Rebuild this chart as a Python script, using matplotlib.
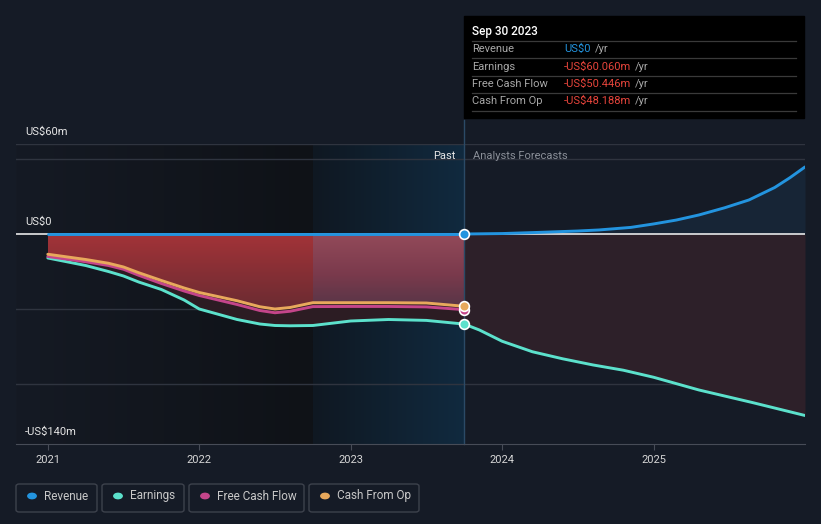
import numpy as np
import matplotlib.pyplot as plt
from matplotlib.colors import LinearSegmentedColormap
from matplotlib.patches import Rectangle, FancyBboxPatch, Circle

plt.rcParams['font.family'] = ['Roboto', 'DejaVu Sans']

W, H = 821, 524

# ------------------------------------------------------------
# Datos (US$m, años decimales)
# ------------------------------------------------------------
t_past = [2021.0, 2021.25, 2021.4, 2021.5, 2021.6, 2021.75, 2021.9, 2022.0, 2022.25,
          2022.4, 2022.5, 2022.6, 2022.75, 2023.0, 2023.25, 2023.5, 2023.75]
revenue_past = [0] * len(t_past)
earnings_past = [-16, -21, -25, -28, -32, -37, -44, -50, -57,
                 -60, -61, -61.2, -61, -58, -57, -57.6, -60.06]
fcf_past = [-15, -18.5, -21, -23.5, -27.5, -33, -38, -41, -47,
            -51, -52.5, -51.5, -48.4, -48.3, -48.3, -48.6, -50.446]
cfo_past = [-13.5, -17, -19.5, -22, -25.8, -31, -36, -39, -44.5,
            -48.5, -50, -49, -45.8, -45.8, -45.8, -46, -48.188]

t_earn_fc = [2023.75, 2023.85, 2024.0, 2024.2, 2024.4, 2024.6, 2024.8, 2025.0,
             2025.3, 2025.65, 2026.0]
earnings_fc = [-60.06, -64, -71.5, -78.5, -83.2, -87.3, -90.8, -95.5, -104, -112.3, -121]

t_rev_fc = [2023.75, 2024.0, 2024.25, 2024.5, 2024.64, 2024.85, 2025.0, 2025.15,
            2025.3, 2025.47, 2025.63, 2025.8, 2025.9, 2026.0]
revenue_fc = [0, 0.3, 1.1, 2.0, 2.7, 4.4, 6.7, 9.3, 12.7, 17.5, 22.7, 31.0, 37.5, 44.7]

years = [2021, 2022, 2023, 2024, 2025]
y_labels = {60: 'US$60m', 0: 'US$0', -140: '-US$140m'}

tooltip_date = 'Sep 30 2023'
tooltip_rows = [('Revenue', 'US$0', '#2394df'),
                ('Earnings', '-US$60.060m', '#e8453c'),
                ('Free Cash Flow', '-US$50.446m', '#e8453c'),
                ('Cash From Op', '-US$48.188m', '#e8453c')]

C_REV = '#2394df'
C_EARN = '#5ce1cc'
C_FCF = '#c4458a'
C_CFO = '#e8a95c'
BG = '#151b26'


def fx(x):
    return x / W


def fy(y):
    return 1 - y / H


# ------------------------------------------------------------
# Figura y ejes
# ------------------------------------------------------------
fig = plt.figure(figsize=(W / 100, H / 100), dpi=100, facecolor=BG)
ax = fig.add_axes([fx(16), fy(444), (805 - 16) / W, 300 / H])
ax.set_facecolor(BG)
x0, x1 = 2020.79, 2026.0
ax.set_xlim(x0, x1)
ax.set_ylim(-140, 60)
t_split = 2022.75
t_now = 2023.75

# fondo oscuro del pasado y zona resaltada (último año)
dark = LinearSegmentedColormap.from_list('dark', ['#151a24', '#0f1217'])
ax.imshow(np.linspace(0, 1, 200).reshape(1, -1), cmap=dark, aspect='auto',
          extent=[x0, t_split, -140, 60], zorder=0)
hl = LinearSegmentedColormap.from_list('hl', ['#0f1822', '#112a3f'])
ax.imshow(np.linspace(0, 1, 200).reshape(1, -1), cmap=hl, aspect='auto',
          extent=[t_split, t_now, -140, 60], zorder=0)

# líneas de rejilla
for g in [60, 50, -50, -100]:
    ax.axhline(g, color='#2f343f', lw=1, zorder=1)

# relleno rojo entre 0 y Cash From Op (pasado)
poly = ax.fill_between(t_past, 0, cfo_past, color='none', lw=0)
clip = poly.get_paths()[0]
red = LinearSegmentedColormap.from_list('red', ['#5a2930', '#a33338'])
gy = np.linspace(0, 1, 100).reshape(-1, 1)
im1 = ax.imshow(gy, cmap=red, aspect='auto', origin='lower',
                extent=[2021, t_split, -65, 0], zorder=2)
im1.set_clip_path(clip, ax.transData)
mauve = LinearSegmentedColormap.from_list('mauve', ['#4e3446', '#7a3a4c', '#934a5a'])
im2 = ax.imshow(gy, cmap=mauve, aspect='auto', origin='lower',
                extent=[t_split, t_now, -55, 0], zorder=2)
im2.set_clip_path(clip, ax.transData)

# relleno oscuro entre Cash From Op y Earnings
ax.fill_between(t_past, cfo_past, earnings_past, color='#2c1c23', lw=0, zorder=2)

# previsiones: rellenos
ax.fill_between(t_earn_fc, 0, earnings_fc, color='#2d2029', lw=0, zorder=2)
ax.fill_between(t_rev_fc, 0, revenue_fc, color='#172536', lw=0, zorder=2)

# línea de cero
ax.axhline(0, color='#e8e8e8', lw=1.2, zorder=3)

# series
kw = dict(lw=2.1, solid_capstyle='round', solid_joinstyle='round', zorder=4)
ax.plot(t_past, earnings_past, color=C_EARN, **kw)
ax.plot(t_earn_fc, earnings_fc, color=C_EARN, **kw)
ax.plot(t_past, fcf_past, color=C_FCF, **kw)
ax.plot(t_past, cfo_past, color=C_CFO, **kw)
ax.plot(t_past, revenue_past, color=C_REV, **kw)
ax.plot(t_rev_fc, revenue_fc, color=C_REV, **kw)

# línea vertical del tooltip
ax.plot([t_now, t_now], [-140, 76], color='#2b4a66', lw=1, zorder=3, clip_on=False)

# marcadores en la fecha actual
for v, c in [(fcf_past[-1], C_FCF), (cfo_past[-1], C_CFO),
             (earnings_past[-1], C_EARN), (revenue_past[-1], C_REV)]:
    ax.plot(t_now, v, 'o', ms=7, color=c, mec='white', mew=1.2, zorder=6)

# ejes
for s in ['top', 'right', 'left']:
    ax.spines[s].set_visible(False)
ax.spines['bottom'].set_color('#474c57')
ax.spines['bottom'].set_zorder(5)
ax.set_yticks([])
ax.set_xticks(years)
ax.set_xticklabels([str(y) for y in years], color='#d6d6d6', fontsize=8)
ax.tick_params(axis='x', colors='#474c57', length=4, pad=4, labelcolor='#d6d6d6')

for v, lab in y_labels.items():
    ax.annotate(lab, xy=(0, v), xycoords=('axes fraction', 'data'),
                xytext=(6.5, 8.6), textcoords='offset points',
                color='#e6e6e6', fontsize=8, va='center', ha='left')

ax.annotate('Past', xy=(t_now, 60), xytext=(-6, -8.6), textcoords='offset points',
            color='#e6e6e6', fontsize=8, ha='right', va='center')
ax.annotate('Analysts Forecasts', xy=(t_now, 60), xytext=(6.5, -8.6),
            textcoords='offset points', color='#8a8f98', fontsize=8,
            ha='left', va='center')

# ------------------------------------------------------------
# Tooltip
# ------------------------------------------------------------
fig.patches.append(Rectangle((fx(464), fy(118)), 340 / W, 102 / H,
                             transform=fig.transFigure, color='#000000', zorder=10))
fig.text(fx(472), fy(31), tooltip_date, color='white', fontsize=8.5,
         fontweight='medium', va='center', zorder=11)
renderer = fig.canvas.get_renderer()
row_y = [49, 66.5, 84, 101]
sep_y = [41, 58.3, 75.8, 93.3, 110.5]
for yy in sep_y:
    fig.lines.append(plt.Line2D([fx(472), fx(796)], [fy(yy), fy(yy)],
                                transform=fig.transFigure, color='#3a3a3a',
                                lw=0.9, zorder=11))
for (lab, val, col), yy in zip(tooltip_rows, row_y):
    fig.text(fx(472), fy(yy), lab, color='#a8a8a8', fontsize=8, va='center', zorder=11)
    t = fig.text(fx(564), fy(yy), val, color=col, fontsize=8, va='center', zorder=11)
    ext = t.get_window_extent(renderer)
    fig.text(ext.x1 / W + fx(4), fy(yy), '/yr', color='#a8a8a8', fontsize=8,
             va='center', zorder=11)

# ------------------------------------------------------------
# Leyenda
# ------------------------------------------------------------
legend_items = [('Revenue', C_REV, 16, 97), ('Earnings', C_EARN, 102, 184),
                ('Free Cash Flow', C_FCF, 189, 304), ('Cash From Op', C_CFO, 309, 419)]
for lab, col, xa, xb in legend_items:
    fig.patches.append(FancyBboxPatch((fx(xa), fy(512)), (xb - xa) / W, 28 / H,
                                      boxstyle='round,pad=0,rounding_size=0.004',
                                      transform=fig.transFigure, facecolor='none',
                                      edgecolor='#3d424c', lw=1))
    fig.patches.append(Circle((fx(xa + 16), fy(496)), 4.2 / W,
                              transform=fig.transFigure, color=col))
    fig.text(fx(xa + 28), fy(496), lab, color='#c8c8c8', fontsize=8.5, va='center')

fig.savefig('out.png', dpi=100, facecolor=BG)
